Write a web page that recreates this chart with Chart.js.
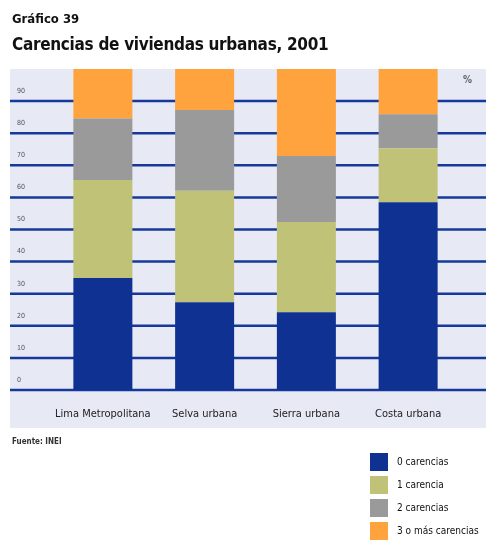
<!DOCTYPE html>
<html>
<head>
<meta charset="utf-8">
<script src="https://cdn.jsdelivr.net/npm/chart.js@4"></script>
<style>
  body { margin: 0; background: #fff; }
  #wrap { position: relative; width: 486px; height: 545px; overflow: hidden;
          font-family: 'DejaVu Sans Condensed', 'Liberation Sans Narrow', sans-serif; font-stretch: condensed; color: #111; }
  #chart { position: absolute; left: 0; top: 0; }
  .t1 { position: absolute; left: 12px; top: 11px; font-size: 13px; font-weight: bold; }
  .t2 { position: absolute; left: 12px; top: 34px; font-size: 17px; font-weight: bold; letter-spacing: -0.3px; }
  .src { position: absolute; left: 12px; top: 437px; font-size: 8px; color: #333; font-weight: bold; }
  .pct { position: absolute; left: 463px; top: 74px; font-size: 10px; color: #666; font-weight: bold; }
  #legend { position: absolute; left: 370px; top: 453px; }
  .row { height: 23px; display: flex; align-items: flex-start; font-size: 10px; }
  .box { width: 18px; height: 18px; margin-right: 9px; }
  .row span { line-height: 18px; }
</style>
</head>
<body>
<div id="wrap">
  <canvas id="chart" width="486" height="545"></canvas>
  <div class="t1">Gráfico 39</div>
  <div class="t2">Carencias de viviendas urbanas, 2001</div>
  <div class="pct">%</div>
  <div class="src">Fuente: INEI</div>
  <div id="legend"></div>
</div>
<script>
const regiones = ['Lima Metropolitana', 'Selva urbana', 'Sierra urbana', 'Costa urbana'];
const cero = [34.9, 27.3, 24.2, 58.5];
const una = [30.5, 34.8, 28.1, 16.8];
const dos = [19.2, 25.1, 20.6, 10.6];
const tresMas = [15.4, 12.8, 27.1, 14.1];
const series = ['0 carencias', '1 carencia', '2 carencias', '3 o más carencias'];
const colores = ['#0f3292', '#c0c277', '#9a9a9a', '#ffa33e'];

const fondo = {
    id: 'fondo',
    beforeDraw(chart) {
        const c = chart.ctx;
        const a = chart.chartArea;
        c.save();
        c.fillStyle = '#e7e9f5';
        c.fillRect(10, a.top, 476, 428 - a.top);
        c.restore();
    },
    beforeDatasetsDraw(chart) {
        const c = chart.ctx;
        const y = chart.scales.y;
        c.save();
        c.strokeStyle = '#17389a';
        c.lineWidth = 2.5;
        y.ticks.forEach(t => {
            if (t.value >= 100) return;
            const py = y.getPixelForValue(t.value);
            c.beginPath();
            c.moveTo(10, py);
            c.lineTo(486, py);
            c.stroke();
        });
        c.restore();
    }
};

const data = [cero, una, dos, tresMas].map((d, i) => ({
    label: series[i],
    data: d,
    backgroundColor: colores[i],
    borderWidth: 0,
    categoryPercentage: 1,
    barPercentage: 0.58
}));

new Chart(document.getElementById('chart'), {
    type: 'bar',
    data: { labels: regiones, datasets: data },
    options: {
        responsive: false,
        animation: false,
        layout: { padding: { left: 17, right: 27, top: 69, bottom: 124 } },
        plugins: { legend: { display: false }, tooltip: { enabled: false } },
        scales: {
            x: {
                stacked: true,
                grid: { display: false },
                border: { display: false },
                ticks: { color: '#222', padding: 10, font: { family: "'DejaVu Sans Condensed', 'Liberation Sans Narrow', sans-serif", size: 11 } },
                afterFit(s) { s.height = 31; }
            },
            y: {
                stacked: true,
                min: 0,
                max: 100,
                grid: { display: false },
                border: { display: false },
                ticks: {
                    stepSize: 10,
                    crossAlign: 'far',
                    labelOffset: -10,
                    color: '#555',
                    font: { family: "'DejaVu Sans Condensed', sans-serif", size: 7 },
                    callback: v => v === 100 ? '' : v
                },
                afterFit(s) { s.width = 35; }
            }
        }
    },
    plugins: [fondo]
});

const lg = document.getElementById('legend');
series.forEach((s, i) => {
    lg.innerHTML += '<div class="row"><div class="box" style="background:' + colores[i] + '"></div><span>' + s + '</span></div>';
});
</script>
</body>
</html>
